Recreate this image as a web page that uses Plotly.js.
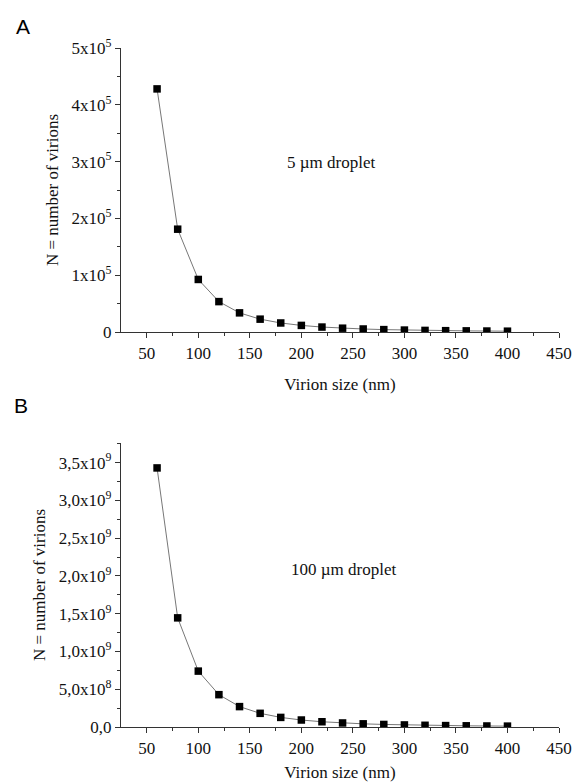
<!DOCTYPE html>
<html>
<head>
<meta charset="utf-8">
<script src="https://cdn.plot.ly/plotly-3.0.1.min.js"></script>
<style>html,body{margin:0;padding:0;background:#fff;}#chart{width:575px;height:782px;}</style>
</head>
<body>
<div id="chart"></div>
<script>
// Virion size (nm)
var sizes = [60, 80, 100, 120, 140, 160, 180, 200, 220, 240, 260, 280, 300, 320, 340, 360, 380, 400];
// Panel A: 5 µm droplet
var n5um = [428000, 181000, 92500, 53500, 33700, 22600, 15900, 11600, 8700, 6700, 5300, 4200, 3400, 2800, 2350, 2000, 1700, 1450];
// Panel B: 100 µm droplet
var n100um = [3.43e9, 1.445e9, 7.4e8, 4.28e8, 2.7e8, 1.81e8, 1.27e8, 9.25e7, 6.95e7, 5.35e7, 4.2e7, 3.37e7, 2.74e7, 2.26e7, 1.88e7, 1.59e7, 1.35e7, 1.16e7];

var xTickVals = [50, 100, 150, 200, 250, 300, 350, 400, 450];
var xMinor = [75, 125, 175, 225, 275, 325, 375, 425];
var yATickVals = [0, 1e5, 2e5, 3e5, 4e5, 5e5];
var yATickText = ['0', '1x10<sup>5</sup>', '2x10<sup>5</sup>', '3x10<sup>5</sup>', '4x10<sup>5</sup>', '5x10<sup>5</sup>'];
var yBTickVals = [0, 5e8, 1e9, 1.5e9, 2e9, 2.5e9, 3e9, 3.5e9];
var yBTickText = ['0,0', '5,0x10<sup>8</sup>', '1,0x10<sup>9</sup>', '1,5x10<sup>9</sup>', '2,0x10<sup>9</sup>', '2,5x10<sup>9</sup>', '3,0x10<sup>9</sup>', '3,5x10<sup>9</sup>'];
var yAMinor = [5e4, 1.5e5, 2.5e5, 3.5e5, 4.5e5];
var yBMinor = [2.5e8, 7.5e8, 1.25e9, 1.75e9, 2.25e9, 2.75e9, 3.25e9, 3.75e9];

var serif = 'Liberation Serif, Times New Roman, serif';
var axisColor = '#333';
var textColor = '#111';

var lineStyle = {color: '#777', width: 1};
var markerStyle = {symbol: 'square', size: 7.5, color: '#000'};

var traces = [
  {x: sizes, y: n5um, xaxis: 'x', yaxis: 'y', mode: 'lines+markers', line: lineStyle, marker: markerStyle, showlegend: false},
  {x: sizes, y: n100um, xaxis: 'x2', yaxis: 'y2', mode: 'lines+markers', line: lineStyle, marker: markerStyle, showlegend: false}
];

function xAxis(anchor, standoff) {
  return {
    anchor: anchor,
    domain: [121/575, 559/575],
    range: [25, 450],
    showgrid: false, zeroline: false,
    showline: true, linecolor: axisColor, linewidth: 1.2,
    ticks: 'outside', ticklen: 5, tickwidth: 1, tickcolor: axisColor,
    tickmode: 'array', tickvals: xTickVals,
    minor: {ticks: 'outside', ticklen: 3, tickcolor: axisColor, tickwidth: 1, tickmode: 'array', tickvals: xMinor, showgrid: false},
    tickfont: {family: serif, size: 17, color: textColor},
    title: {text: 'Virion size (nm)', font: {family: serif, size: 17, color: textColor}, standoff: standoff},
    automargin: false
  };
}
function yAxis(anchor, domain, range, tv, tt, minorVals) {
  return {
    anchor: anchor,
    domain: domain,
    range: range,
    showgrid: false, zeroline: false,
    showline: true, linecolor: axisColor, linewidth: 1.2,
    ticks: 'outside', ticklen: 5, tickwidth: 1, tickcolor: axisColor,
    tickmode: 'array', tickvals: tv, ticktext: tt,
    minor: {ticks: 'outside', ticklen: 3, tickcolor: axisColor, tickwidth: 1, tickmode: 'array', tickvals: minorVals, showgrid: false},
    tickfont: {family: serif, size: 17, color: textColor},
    title: {text: 'N = number of virions', font: {family: serif, size: 17, color: textColor}, standoff: 8},
    automargin: false
  };
}

var layout = {
  width: 575, height: 782,
  margin: {l: 0, r: 0, t: 0, b: 0},
  paper_bgcolor: '#fff', plot_bgcolor: '#fff',
  xaxis: xAxis('y', 16),
  yaxis: yAxis('x', [1 - 332/782, 1 - 48/782], [0, 5e5], yATickVals, yATickText, yAMinor),
  xaxis2: xAxis('y2', 12),
  yaxis2: yAxis('x2', [1 - 727/782, 1 - 443/782], [0, 3.76e9], yBTickVals, yBTickText, yBMinor),
  annotations: [
    {text: 'A', xref: 'paper', yref: 'paper', x: 23/575, y: 1 - 26/782, xanchor: 'center', yanchor: 'middle', showarrow: false, font: {family: 'Liberation Sans, Arial, sans-serif', size: 21, color: '#000'}},
    {text: 'B', xref: 'paper', yref: 'paper', x: 21/575, y: 1 - 405/782, xanchor: 'center', yanchor: 'middle', showarrow: false, font: {family: 'Liberation Sans, Arial, sans-serif', size: 21, color: '#000'}},
    {text: '5 \u00b5m droplet', xref: 'x', yref: 'y', x: 229, y: 2.98e5, xanchor: 'center', yanchor: 'middle', showarrow: false, font: {family: serif, size: 17, color: textColor}},
    {text: '100 \u00b5m droplet', xref: 'x2', yref: 'y2', x: 241, y: 2.09e9, xanchor: 'center', yanchor: 'middle', showarrow: false, font: {family: serif, size: 17, color: textColor}}
  ]
};

Plotly.newPlot('chart', traces, layout, {displayModeBar: false, staticPlot: true});
</script>
</body>
</html>
